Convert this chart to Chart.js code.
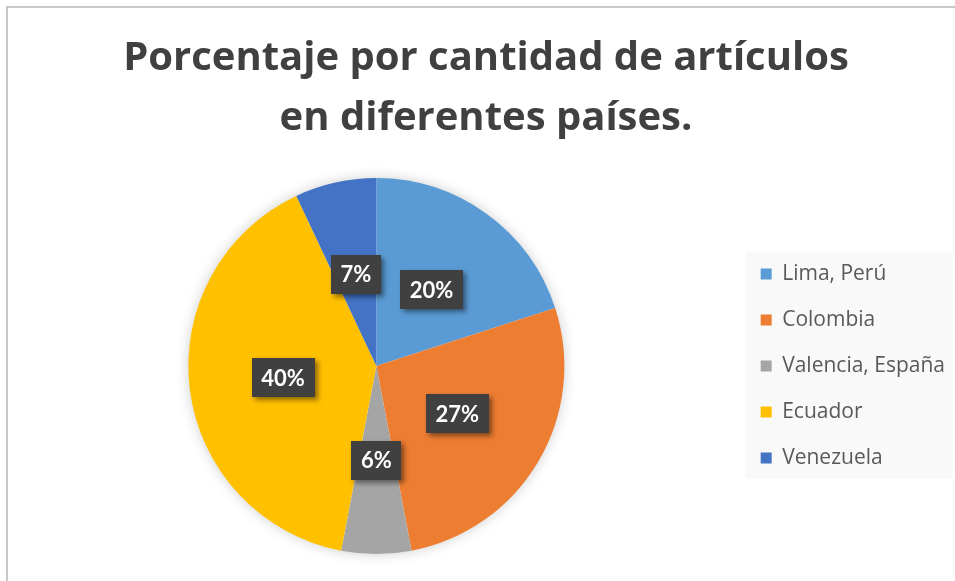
<!DOCTYPE html>
<html>
<head>
<meta charset="utf-8">
<script src="https://cdn.jsdelivr.net/npm/chart.js@4"></script>
<style>
  html, body { margin: 0; padding: 0; background: #fff; }
  #wrap { width: 955px; height: 581px; }
</style>
</head>
<body>
<div id="wrap"><canvas id="chart" width="955" height="581"></canvas></div>
<script>
// chart data
const titleLines = ["Porcentaje por cantidad de artículos", "en diferentes países."];
const countries = ["Lima, Perú", "Colombia", "Valencia, España", "Ecuador", "Venezuela"];
const percents = [20, 27, 6, 40, 7];
const sliceColors = ["#5B9BD5", "#ED7D31", "#A5A5A5", "#FFC000", "#4472C4"];

// soft shadow behind the pie, drawn once so slices don't shade each other
const pieShadow = {
  id: "pieShadow",
  beforeDatasetsDraw(chart) {
    const arc = chart.getDatasetMeta(0).data[0];
    if (!arc) return;
    const ctx = chart.ctx;
    ctx.save();
    ctx.shadowColor = "rgba(0,0,0,0.22)";
    ctx.shadowBlur = 14;
    ctx.fillStyle = "#ffffff";
    ctx.beginPath();
    ctx.arc(arc.x, arc.y, arc.outerRadius - 1, 0, Math.PI * 2);
    ctx.fill();
    ctx.restore();
  }
};

// dark value boxes in the middle of every slice
const valueBoxes = {
  id: "valueBoxes",
  afterDatasetsDraw(chart) {
    const ctx = chart.ctx;
    const meta = chart.getDatasetMeta(0);
    ctx.save();
    ctx.font = "bold 22px Lato";
    ctx.textAlign = "center";
    ctx.textBaseline = "middle";
    meta.data.forEach((arc, i) => {
      const p = arc.tooltipPosition();
      const text = percents[i] + "%";
      const w = ctx.measureText(text).width + 19;
      const h = 39;
      ctx.save();
      ctx.shadowColor = "rgba(0,0,0,0.45)";
      ctx.shadowBlur = 5;
      ctx.shadowOffsetX = 3;
      ctx.shadowOffsetY = 3;
      ctx.fillStyle = "#404040";
      ctx.fillRect(Math.round(p.x - w / 2), Math.round(p.y - h / 2), Math.round(w), h);
      ctx.restore();
      ctx.fillStyle = "#ffffff";
      ctx.fillText(text, p.x, p.y + 1);
    });
    ctx.restore();
  }
};

// grey panel behind the legend, plus the frame of the chart
const legendPanel = {
  id: "legendPanel",
  beforeDraw(chart) {
    const lg = chart.legend;
    const ctx = chart.ctx;
    ctx.save();
    if (lg && lg.legendHitBoxes && lg.legendHitBoxes.length) {
      const boxes = lg.legendHitBoxes;
      const first = boxes[0], last = boxes[boxes.length - 1];
      ctx.fillStyle = "#F9F9F9";
      ctx.fillRect(first.left - 15, first.top - 12, 207, last.top + last.height - first.top + 22);
    }
    ctx.fillStyle = "#C8C8C8";
    ctx.fillRect(6, 6, 949, 2);
    ctx.fillRect(6, 6, 2, 575);
    ctx.restore();
  }
};

new Chart(document.getElementById("chart"), {
  type: "pie",
  data: {
    labels: countries,
    datasets: [{
      data: percents,
      backgroundColor: sliceColors,
      borderWidth: 0
    }]
  },
  options: {
    responsive: false,
    animation: false,
    events: [],
    layout: { padding: { left: 17, right: 0, top: 0, bottom: 27 } },
    plugins: {
      title: {
        display: true,
        text: titleLines,
        color: "#404040",
        font: { family: "Open Sans", size: 40, weight: "bold", lineHeight: 1.5 },
        padding: { top: 29, bottom: 29 }
      },
      legend: {
        position: "right",
        fullSize: false,
        labels: {
          color: "#595959",
          font: { family: "Open Sans", size: 21 },
          boxWidth: 11,
          boxHeight: 11,
          padding: 25
        }
      },
      tooltip: { enabled: false }
    }
  },
  plugins: [pieShadow, valueBoxes, legendPanel]
});
</script>
</body>
</html>
